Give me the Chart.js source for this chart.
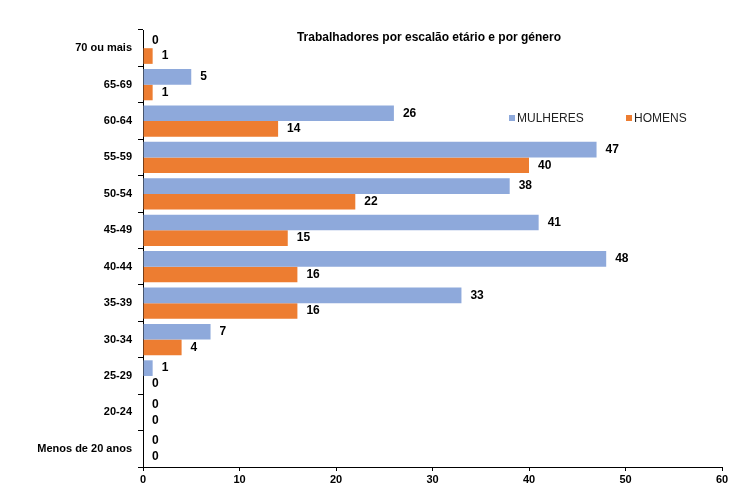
<!DOCTYPE html>
<html>
<head>
<meta charset="utf-8">
<script src="https://cdn.jsdelivr.net/npm/chart.js@4/dist/chart.umd.min.js"></script>
<style>
  html, body { margin: 0; padding: 0; background: #fff; }
  #wrap { width: 739px; height: 503px; position: relative; }
</style>
</head>
<body>
<div id="wrap"><canvas id="chart"></canvas></div>
<script>
  // Age groups, top to bottom as in the picture
  const categories = ['70 ou mais', '65-69', '60-64', '55-59', '50-54', '45-49', '40-44', '35-39', '30-34', '25-29', '20-24', 'Menos de 20 anos'];
  const mulheres = [0, 5, 26, 47, 38, 41, 48, 33, 7, 1, 0, 0];
  const homens = [1, 1, 14, 40, 22, 15, 16, 16, 4, 0, 0, 0];
  const xTicks = [0, 10, 20, 30, 40, 50, 60];

  const chartTitle = 'Trabalhadores por escalão etário e por género';
  const blue = 'rgb(142,169,219)';
  const orange = 'rgb(237,125,49)';

  // Value labels, title and the in-plot legend
  const extrasPlugin = {
    id: 'extras',
    afterDatasetsDraw(chart) {
      const ctx = chart.ctx;
      ctx.save();
      ctx.font = 'bold 12px "Liberation Sans", Arial, sans-serif';
      ctx.fillStyle = '#000';
      ctx.textBaseline = 'middle';
      ctx.textAlign = 'left';
      chart.data.datasets.forEach((ds, i) => {
        chart.getDatasetMeta(i).data.forEach((bar, j) => {
          ctx.fillText(String(ds.data[j]), bar.x + 9, bar.y);
        });
      });

      // title
      ctx.textAlign = 'center';
      ctx.fillText(chartTitle, 429, 38);

      // legend
      ctx.font = '12px "Liberation Sans", Arial, sans-serif';
      ctx.textAlign = 'left';
      const items = [
        { x: 509, label: chart.data.datasets[0].label, color: blue },
        { x: 626, label: chart.data.datasets[1].label, color: orange },
      ];
      items.forEach(it => {
        ctx.fillStyle = it.color;
        ctx.fillRect(it.x, 115, 6, 6);
        ctx.fillStyle = '#222';
        ctx.fillText(it.label, it.x + 8, 118.5);
      });
      ctx.restore();
    }
  };

  new Chart(document.getElementById('chart'), {
    type: 'bar',
    data: {
      labels: categories,
      datasets: [
        { label: 'MULHERES', data: mulheres, backgroundColor: blue },
        { label: 'HOMENS', data: homens, backgroundColor: orange },
      ],
    },
    options: {
      indexAxis: 'y',
      responsive: true,
      maintainAspectRatio: false,
      animation: false,
      layout: { padding: { left: 0, right: 17, top: 30, bottom: 0 } },
      plugins: {
        legend: { display: false },
        title: { display: false },
        tooltip: { enabled: false },
      },
      datasets: {
        bar: { categoryPercentage: 0.86, barPercentage: 1.0 },
      },
      scales: {
        x: {
          min: 0,
          max: 60,
          afterBuildTicks: (s) => { s.ticks = xTicks.map(v => ({ value: v })); },
          afterFit: (s) => { s.height = 36; },
          grid: { drawOnChartArea: false, tickLength: 4, color: '#000' },
          border: { color: '#000', width: 1 },
          ticks: {
            color: '#000',
            padding: 2,
            maxRotation: 0,
            font: { family: '"Liberation Sans", Arial, sans-serif', size: 11, weight: 'bold' },
          },
        },
        y: {
          afterFit: (s) => { s.width = 143; },
          grid: { drawOnChartArea: false, offset: true, tickLength: 5, color: '#000' },
          border: { color: '#000', width: 1 },
          ticks: {
            color: '#000',
            padding: 6,
            font: { family: '"Liberation Sans", Arial, sans-serif', size: 11, weight: 'bold' },
          },
        },
      },
    },
    plugins: [extrasPlugin],
  });
</script>
</body>
</html>
